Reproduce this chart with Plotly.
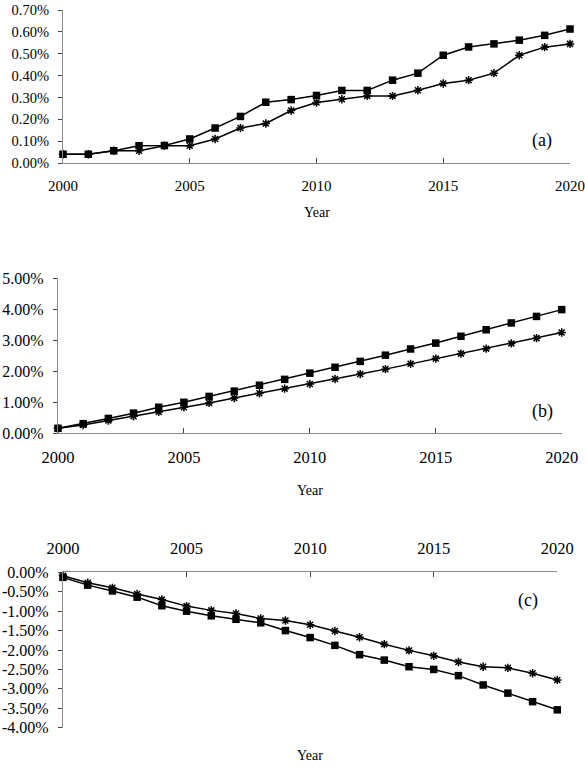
import plotly.graph_objects as go

years = list(range(2000, 2021))

a_square = [0.04, 0.04, 0.056, 0.079, 0.08, 0.11, 0.16, 0.213, 0.278, 0.29, 0.309,
            0.332, 0.332, 0.379, 0.411, 0.493, 0.531, 0.545, 0.562, 0.584, 0.613]
a_star = [0.04, 0.04, 0.056, 0.056, 0.079, 0.079, 0.11, 0.16, 0.181, 0.24, 0.277,
          0.292, 0.307, 0.307, 0.333, 0.364, 0.379, 0.411, 0.493, 0.53, 0.545]

b_square = [0.16, 0.31, 0.48, 0.65, 0.84, 1.0, 1.19, 1.36, 1.55, 1.74, 1.94,
            2.13, 2.32, 2.52, 2.72, 2.91, 3.13, 3.34, 3.56, 3.77, 3.99]
b_star = [0.16, 0.27, 0.41, 0.55, 0.69, 0.84, 0.98, 1.14, 1.29, 1.44, 1.59,
          1.75, 1.91, 2.07, 2.24, 2.41, 2.57, 2.73, 2.90, 3.07, 3.25]

c_square = [-0.13, -0.33, -0.48, -0.64, -0.86, -1.0, -1.12, -1.21, -1.30, -1.50, -1.68,
            -1.88, -2.12, -2.26, -2.43, -2.50, -2.66, -2.90, -3.11, -3.33, -3.54]
c_star = [-0.09, -0.27, -0.40, -0.56, -0.70, -0.87, -0.98, -1.06, -1.19, -1.24, -1.35,
          -1.51, -1.67, -1.85, -2.01, -2.15, -2.31, -2.43, -2.46, -2.60, -2.77]

a_ticks = [0.0, 0.1, 0.2, 0.3, 0.4, 0.5, 0.6, 0.7]
b_ticks = [0, 1, 2, 3, 4, 5]
c_ticks = [0, -0.5, -1, -1.5, -2, -2.5, -3, -3.5, -4]
x_ticks = [2000, 2005, 2010, 2015, 2020]

W, H = 585, 780
FONT = "Liberation Serif"
AXC = "#8a8a8a"


def px_x(p):
    return p / W


def px_y(p):
    return 1 - p / H


fig = go.Figure()

panels = [
    ("", "", a_square, a_star),
    ("2", "2", b_square, b_star),
    ("3", "3", c_square, c_star),
]
for xs, ys, sq, st in panels:
    fig.add_trace(go.Scatter(x=years, y=sq, xaxis="x" + xs, yaxis="y" + ys, mode="lines+markers",
                             line=dict(color="black", width=1.5),
                             marker=dict(symbol="square", size=7.5, color="black"),
                             cliponaxis=False, showlegend=False))
    fig.add_trace(go.Scatter(x=years, y=st, xaxis="x" + xs, yaxis="y" + ys, mode="lines+markers",
                             line=dict(color="black", width=1.5),
                             marker=dict(symbol="asterisk-open", size=7, color="black",
                                         line=dict(color="black", width=1.5)),
                             cliponaxis=False, showlegend=False))


def xaxis(domain, anchor, fs, side="bottom", standoff=9):
    return dict(domain=domain, anchor=anchor, range=[2000, 2020], tickvals=x_ticks,
                ticks="inside", ticklen=5, tickcolor="#444", side=side, automargin=False,
                showline=True, linecolor=AXC, linewidth=1.2, showgrid=False, zeroline=False,
                tickfont=dict(family=FONT, size=fs, color="black"), ticklabelstandoff=standoff)


def yaxis(domain, anchor, rng, vals, fs, standoff=6):
    return dict(domain=domain, anchor=anchor, range=rng, tickvals=vals,
                ticktext=["%.2f%%" % v for v in vals], automargin=False,
                ticks="outside", ticklen=4, tickcolor="#444",
                showline=True, linecolor=AXC, linewidth=1.2, showgrid=False, zeroline=False,
                tickfont=dict(family=FONT, size=fs, color="black"), ticklabelstandoff=standoff)


fig.update_layout(
    template="none",
    width=W, height=H, margin=dict(l=0, r=0, t=0, b=0, pad=0, autoexpand=False),
    paper_bgcolor="white", plot_bgcolor="white",
    xaxis=xaxis([px_x(63), px_x(570)], "y", 15),
    yaxis=yaxis([px_y(163), px_y(10)], "x", [0, 0.7], a_ticks, 14.5),
    xaxis2=xaxis([px_x(58), px_x(561.7)], "y2", 16.5),
    yaxis2=yaxis([px_y(433.3), px_y(278.3)], "x2", [0, 5], b_ticks, 16),
    xaxis3=xaxis([px_x(63), px_x(557.3)], "y3", 16.5, side="top", standoff=11),
    yaxis3=yaxis([px_y(727.7), px_y(572.3)], "x3", [-4, 0], c_ticks, 16),
)

annots = [
    ("Year", 317, 213, 14), ("Year", 310, 490, 14), ("Year", 310, 755, 14),
    ("(a)", 542, 140, 18), ("(b)", 542, 411, 18), ("(c)", 528, 600, 18),
]
for t, x, y, s in annots:
    fig.add_annotation(text=t, x=px_x(x), y=px_y(y), xref="paper", yref="paper",
                       showarrow=False, xanchor="center", yanchor="middle",
                       font=dict(family=FONT, size=s, color="black"))

fig.write_html("out.html")
